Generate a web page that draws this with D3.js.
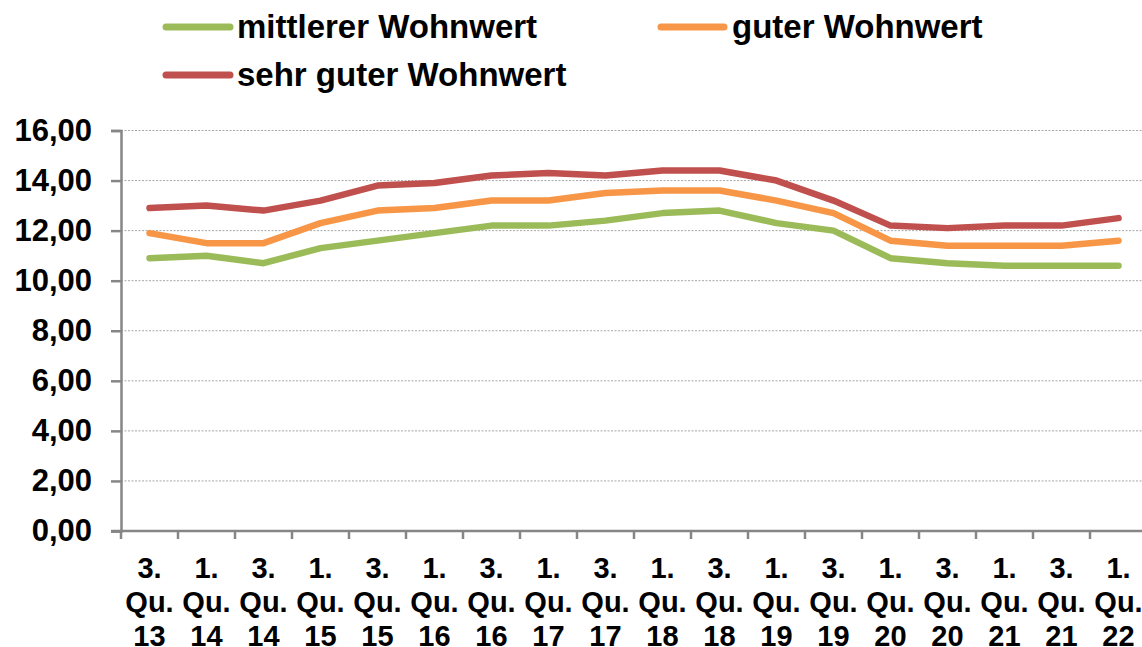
<!DOCTYPE html>
<html>
<head>
<meta charset="utf-8">
<script src="https://cdn.jsdelivr.net/npm/d3@7"></script>
<style>
  html, body { margin: 0; padding: 0; background: #fff; }
  svg { display: block; font-family: "Liberation Sans", Arial, sans-serif; font-weight: bold; }
</style>
</head>
<body>
<svg id="chart" width="1142" height="647"></svg>
<script>
// quarters (each label has three lines)
const quarters = [
  ["3.", "Qu.", "13"], ["1.", "Qu.", "14"], ["3.", "Qu.", "14"], ["1.", "Qu.", "15"],
  ["3.", "Qu.", "15"], ["1.", "Qu.", "16"], ["3.", "Qu.", "16"], ["1.", "Qu.", "17"],
  ["3.", "Qu.", "17"], ["1.", "Qu.", "18"], ["3.", "Qu.", "18"], ["1.", "Qu.", "19"],
  ["3.", "Qu.", "19"], ["1.", "Qu.", "20"], ["3.", "Qu.", "20"], ["1.", "Qu.", "21"],
  ["3.", "Qu.", "21"], ["1.", "Qu.", "22"]
];

const mittlerer = [10.9, 11.0, 10.7, 11.3, 11.6, 11.9, 12.2, 12.2, 12.4, 12.7, 12.8, 12.3, 12.0, 10.9, 10.7, 10.6, 10.6, 10.6];
const guter     = [11.9, 11.5, 11.5, 12.3, 12.8, 12.9, 13.2, 13.2, 13.5, 13.6, 13.6, 13.2, 12.7, 11.6, 11.4, 11.4, 11.4, 11.6];
const sehrGuter = [12.9, 13.0, 12.8, 13.2, 13.8, 13.9, 14.2, 14.3, 14.2, 14.4, 14.4, 14.0, 13.2, 12.2, 12.1, 12.2, 12.2, 12.5];

const yTicks = [0, 2, 4, 6, 8, 10, 12, 14, 16];

const series = [
  { name: "mittlerer Wohnwert", values: mittlerer, color: "#9bbb59" },
  { name: "guter Wohnwert", values: guter, color: "#f79646" },
  { name: "sehr guter Wohnwert", values: sehrGuter, color: "#c0504d" }
];

const svg = d3.select("#chart");
const plotLeft = 121, plotBottom = 531, plotTop = 130.5, step = 57;

const x = d3.scaleBand()
  .domain(d3.range(quarters.length))
  .range([plotLeft, plotLeft + step * quarters.length]);

const y = d3.scaleLinear().domain([0, 16]).range([plotBottom, plotTop]);

const fmt = v => d3.format(".2f")(v).replace(".", ",");

// gridlines
svg.append("g")
  .selectAll("line")
  .data(yTicks.filter(d => d > 0))
  .enter()
  .append("line")
  .attr("x1", plotLeft)
  .attr("x2", 1142)
  .attr("y1", d => y(d))
  .attr("y2", d => y(d))
  .style("stroke", "#a6a6a6")
  .style("stroke-width", 1)
  .style("stroke-dasharray", "2,1.5");

// y axis
const yAxis = svg.append("g")
  .attr("transform", `translate(${plotLeft},0)`)
  .call(d3.axisLeft(y).tickValues(yTicks).tickSize(10).tickPadding(19).tickFormat(fmt));
yAxis.select(".domain").style("stroke", "#868686").style("stroke-width", 2.5);
yAxis.selectAll(".tick line").style("stroke", "#868686").style("stroke-width", 2.5);
yAxis.selectAll(".tick text")
  .style("font-size", "31px")
  .style("font-weight", "bold")
  .style("font-family", "'Liberation Sans', Arial, sans-serif")
  .style("fill", "#000");

// x axis with ticks on band boundaries
const xAxisG = svg.append("g");
xAxisG.append("line")
  .attr("x1", plotLeft - 10).attr("x2", 1142)
  .attr("y1", plotBottom).attr("y2", plotBottom)
  .style("stroke", "#868686").style("stroke-width", 2.5);
xAxisG.selectAll(".xt")
  .data(d3.range(quarters.length))
  .enter()
  .append("line")
  .attr("class", "xt")
  .attr("x1", d => x(d)).attr("x2", d => x(d))
  .attr("y1", plotBottom).attr("y2", plotBottom + 8)
  .style("stroke", "#868686").style("stroke-width", 2.5);

// x labels
const lbl = svg.append("g")
  .selectAll("text")
  .data(quarters)
  .enter()
  .append("text")
  .attr("text-anchor", "middle")
  .style("font-size", "29px")
  .attr("fill", "#000");
lbl.each(function (d, i) {
  const t = d3.select(this);
  d.forEach((line, j) => {
    t.append("tspan")
      .attr("x", x(i) + x.bandwidth() / 2)
      .attr("y", 578 + j * 34)
      .text(line);
  });
});

// lines
const line = d3.line()
  .x((d, i) => x(i) + x.bandwidth() / 2)
  .y(d => y(d));

svg.append("g")
  .selectAll("path")
  .data(series)
  .enter()
  .append("path")
  .attr("d", d => line(d.values))
  .style("fill", "none")
  .style("stroke", d => d.color)
  .style("stroke-width", 6.5)
  .style("stroke-linejoin", "round")
  .style("stroke-linecap", "round");

// legend
const legendPos = [
  { x1: 166, x2: 230, y: 27, tx: 237 },
  { x1: 661, x2: 724, y: 27, tx: 732 },
  { x1: 166, x2: 230, y: 75, tx: 237 }
];
const legend = svg.append("g")
  .selectAll("g")
  .data(series)
  .enter()
  .append("g");
legend.append("line")
  .attr("x1", (d, i) => legendPos[i].x1)
  .attr("x2", (d, i) => legendPos[i].x2)
  .attr("y1", (d, i) => legendPos[i].y)
  .attr("y2", (d, i) => legendPos[i].y)
  .style("stroke", d => d.color)
  .style("stroke-width", 7)
  .style("stroke-linecap", "round");
legend.append("text")
  .attr("x", (d, i) => legendPos[i].tx)
  .attr("y", (d, i) => legendPos[i].y + 11)
  .style("font-size", "33px")
  .attr("fill", "#000")
  .text(d => d.name);
</script>
</body>
</html>
